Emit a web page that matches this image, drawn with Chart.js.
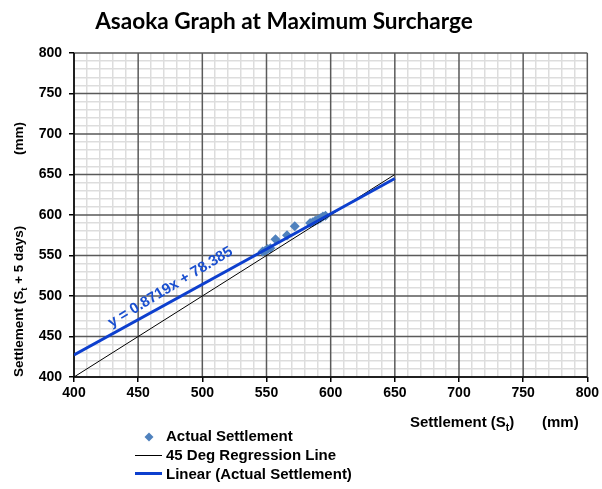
<!DOCTYPE html>
<html>
<head>
<meta charset="utf-8">
<script src="https://cdn.jsdelivr.net/npm/chart.js@4.4.1/dist/chart.umd.min.js"></script>
<style>
body{margin:0;background:#fff;}
#wrap{width:602px;height:489px;}
</style>
</head>
<body>
<div id="wrap"><canvas id="asaoka" width="602" height="489"></canvas></div>
<script>
'use strict'
// settlement St (mm) against settlement 5 days later (mm)
const settleX = [547, 549, 551, 553, 557, 566, 572, 584, 586, 588, 590, 592, 594, 596];
const settleY = [555, 556, 558, 559, 570, 575, 586, 590, 591, 593, 594, 596, 598, 599];

// 45 degree line
const lineX = [400, 650];
const lineY = [400, 650];

// linear trendline of the readings
const trendX = [400, 650];
const trendY = [427.1, 645.1];
const equation = 'y = 0.8719x + 78.385';

const axisMin = 400;
const axisMax = 800;
const majorStep = 50;
const minorStep = 10;

const legendNames = ['Actual Settlement', '45 Deg Regression Line', 'Linear (Actual Settlement)'];

const pointBlue = '#4f81bd';
const trendBlue = '#0d3fce';
const textFont = '"Liberation Sans", Arial, sans-serif';

function toPoints(xs, ys){
    let pts = [];
    for (let i = 0; i < xs.length; i++){
        pts.push({x: xs[i], y: ys[i]});
    }
    return pts;
}

function isMajor(v){
    return Math.abs(v % majorStep) < 0.001;
}

// draws text pieces, some of them as subscript
function richText(ctx, parts, x, y, size){
    for (const p of parts){
        let s = p.sub ? size * 0.7 : size;
        ctx.font = 'bold ' + s + 'px ' + textFont;
        ctx.fillText(p.t, x, y + (p.sub ? size * 0.28 : 0));
        x += ctx.measureText(p.t).width;
    }
    return x;
}

const overlay = {
    id: 'overlay',
    beforeDraw(chart){
        let ctx = chart.ctx;
        ctx.save();
        ctx.fillStyle = '#fff';
        ctx.fillRect(0, 0, chart.width, chart.height);
        ctx.restore();
    },
    // dark 50 mm lines go over the light 10 mm ones
    beforeDatasetsDraw(chart){
        let ctx = chart.ctx;
        let a = chart.chartArea;
        ctx.save();
        ctx.strokeStyle = '#5a5a5a';
        ctx.lineWidth = 1.5;
        ctx.beginPath();
        chart.scales.x.ticks.forEach(tk => {
            if (!isMajor(tk.value)) return;
            let px = chart.scales.x.getPixelForValue(tk.value);
            ctx.moveTo(px, a.top);
            ctx.lineTo(px, a.bottom);
        });
        chart.scales.y.ticks.forEach(tk => {
            if (!isMajor(tk.value)) return;
            let py = chart.scales.y.getPixelForValue(tk.value);
            ctx.moveTo(a.left, py);
            ctx.lineTo(a.right, py);
        });
        ctx.stroke();
        // axis lines
        ctx.strokeStyle = '#000';
        ctx.beginPath();
        ctx.moveTo(a.left, a.top);
        ctx.lineTo(a.left, a.bottom);
        ctx.lineTo(a.right, a.bottom);
        ctx.stroke();
        ctx.restore();
    },
    afterDraw(chart){
        let ctx = chart.ctx;
        let xs = chart.scales.x;
        let ys = chart.scales.y;
        ctx.save();
        ctx.fillStyle = '#000';
        ctx.textBaseline = 'alphabetic';
        ctx.textAlign = 'left';

        // title
        ctx.font = 'bold 20px Lato, "Open Sans", sans-serif';
        let title = 'Asaoka Graph at Maximum Surcharge';
        let tw = ctx.measureText(title).width;
        let fs = 20 * 378 / tw;
        ctx.font = 'bold ' + fs.toFixed(1) + 'px Lato, "Open Sans", sans-serif';
        ctx.textAlign = 'center';
        ctx.fillText(title, 284, 29);
        ctx.textAlign = 'left';

        // x axis title
        richText(ctx, [{t: 'Settlement (S'}, {t: 't', sub: true}, {t: ')'}], 410, 427, 15);
        ctx.font = 'bold 15px ' + textFont;
        ctx.fillText('(mm)', 542, 427);

        // y axis title
        ctx.save();
        ctx.translate(23, 377);
        ctx.rotate(-Math.PI / 2);
        richText(ctx, [{t: 'Settlement (S'}, {t: 't', sub: true}, {t: ' + 5 days)'}], 0, 0, 13.5);
        ctx.font = 'bold 13.5px ' + textFont;
        ctx.fillText('(mm)', 222, 0);
        ctx.restore();

        // trendline equation
        let x0 = xs.getPixelForValue(trendX[0]), y0 = ys.getPixelForValue(trendY[0]);
        let x1 = xs.getPixelForValue(trendX[1]), y1 = ys.getPixelForValue(trendY[1]);
        let ang = Math.atan2(y1 - y0, x1 - x0);
        let t = 0.32;
        let cx = x0 + (x1 - x0) * t + Math.sin(ang) * 13;
        let cy = y0 + (y1 - y0) * t - Math.cos(ang) * 13;
        ctx.save();
        ctx.translate(cx, cy);
        ctx.rotate(ang - 0.04);
        ctx.fillStyle = '#1a4fcf';
        ctx.font = 'bold 15px ' + textFont;
        ctx.textAlign = 'center';
        ctx.textBaseline = 'middle';
        ctx.fillText(equation, 0, 0);
        ctx.restore();

        // legend
        ctx.fillStyle = pointBlue;
        ctx.beginPath();
        ctx.moveTo(149, 432.5);
        ctx.lineTo(153.5, 437);
        ctx.lineTo(149, 441.5);
        ctx.lineTo(144.5, 437);
        ctx.closePath();
        ctx.fill();

        ctx.strokeStyle = '#000';
        ctx.lineWidth = 1;
        ctx.beginPath();
        ctx.moveTo(135, 455.5);
        ctx.lineTo(162, 455.5);
        ctx.stroke();

        ctx.strokeStyle = trendBlue;
        ctx.lineWidth = 3;
        ctx.beginPath();
        ctx.moveTo(135, 473.5);
        ctx.lineTo(162, 473.5);
        ctx.stroke();

        ctx.fillStyle = '#000';
        ctx.font = 'bold 15px ' + textFont;
        ctx.fillText(legendNames[0], 166, 441);
        ctx.fillText(legendNames[1], 166, 460);
        ctx.fillText(legendNames[2], 166, 479);
        ctx.restore();
    }
};

function axisOpts(isX){
    return {
        type: 'linear',
        min: axisMin,
        max: axisMax,
        afterFit(scale){
            if (isX) scale.height = 112;
            else scale.width = 74;
        },
        ticks: {
            stepSize: minorStep,
            autoSkip: false,
            maxRotation: 0,
            padding: isX ? 3 : 7,
            color: '#000',
            font: {family: textFont, size: 14, weight: 'bold'},
            callback: v => isMajor(v) ? v : ''
        },
        grid: {
            color: c => isMajor(c.tick.value) ? 'rgba(0,0,0,0)' : '#dddddd',
            lineWidth: 1.5,
            tickColor: c => isMajor(c.tick.value) ? '#000' : 'rgba(0,0,0,0)',
            tickWidth: 1.5,
            tickLength: 5,
            drawTicks: true
        },
        border: {display: false}
    };
}

new Chart(document.getElementById('asaoka'), {
    type: 'scatter',
    data: {
        datasets: [
            {
                label: legendNames[0],
                data: toPoints(settleX, settleY),
                pointStyle: 'rectRot',
                pointRadius: 5,
                backgroundColor: pointBlue,
                borderColor: pointBlue,
                borderWidth: 0,
                order: 3
            },
            {
                label: legendNames[1],
                data: toPoints(lineX, lineY),
                showLine: true,
                borderColor: '#000',
                borderWidth: 1,
                pointRadius: 0,
                order: 2
            },
            {
                label: legendNames[2],
                data: toPoints(trendX, trendY),
                showLine: true,
                borderColor: trendBlue,
                borderWidth: 3,
                pointRadius: 0,
                order: 1
            }
        ]
    },
    options: {
        responsive: false,
        animation: false,
        layout: {padding: {top: 53, right: 13, bottom: 0, left: 0}},
        plugins: {
            legend: {display: false},
            tooltip: {enabled: false},
            title: {display: false}
        },
        scales: {
            x: axisOpts(true),
            y: axisOpts(false)
        }
    },
    plugins: [overlay]
});
</script>
</body>
</html>
